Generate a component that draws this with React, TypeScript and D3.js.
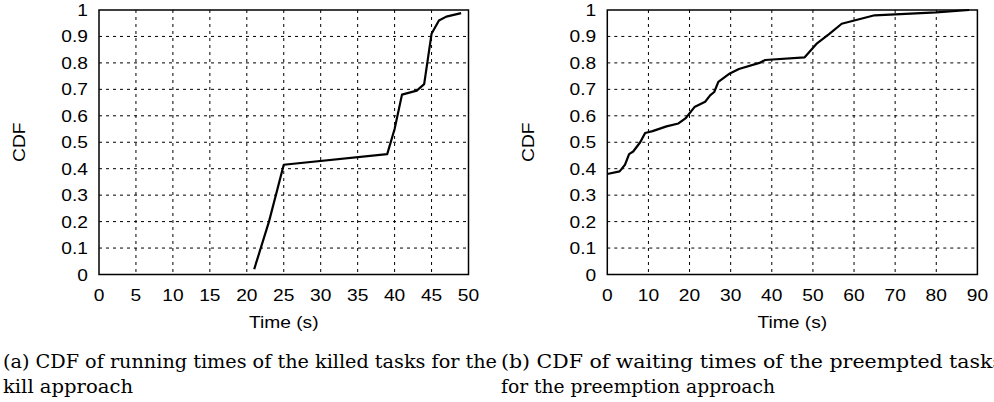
import React from "react";
import * as d3 from "d3";

// Left: CDF of running times of the killed tasks (kill approach)
const killTime = [21, 23, 25, 39, 40, 41, 43, 44, 45, 46, 47, 49];
const killCdf = [0.02, 0.2, 0.415, 0.455, 0.55, 0.68, 0.695, 0.72, 0.91, 0.96, 0.975, 0.988];

// Right: CDF of waiting times of the preempted tasks (preemption approach)
const waitTime = [0, 3, 4.3, 5.3, 6.3, 8, 9.2, 11, 14.4, 17.3, 19, 21.2, 23.8, 25, 26, 27, 29.8, 32, 37, 38.4, 48, 51, 54, 57, 65, 80, 88];
const waitCdf = [0.38, 0.39, 0.415, 0.455, 0.465, 0.5, 0.535, 0.542, 0.56, 0.571, 0.59, 0.633, 0.653, 0.677, 0.69, 0.728, 0.76, 0.777, 0.8, 0.811, 0.821, 0.874, 0.91, 0.948, 0.98, 0.991, 1.0];

const leftXTicks = [0, 5, 10, 15, 20, 25, 30, 35, 40, 45, 50];
const rightXTicks = [0, 10, 20, 30, 40, 50, 60, 70, 80, 90];
const yTicks = [0, 0.1, 0.2, 0.3, 0.4, 0.5, 0.6, 0.7, 0.8, 0.9, 1];
const yTickLabels = ["0", "0.1", "0.2", "0.3", "0.4", "0.5", "0.6", "0.7", "0.8", "0.9", "1"];

const captionA = ["(a) CDF of running times of the killed tasks for the", "kill approach"];
const captionB = ["(b) CDF of waiting times of the preempted tasks", "for the preemption approach"];

const SANS = "'Liberation Sans', Arial, sans-serif";
const SERIF = "'DejaVu Serif', serif";
const SX = 1.13;

function T({ x, y, anchor = "middle", rotate = 0, children }: any) {
  return (
    <text
      transform={`translate(${x},${y}) rotate(${rotate}) scale(${SX},1)`}
      textAnchor={anchor}
      fontFamily={SANS}
      fontSize={17}
      fill="#000"
    >
      {children}
    </text>
  );
}

function Cap({ x, y, len, children }: any) {
  return (
    <text x={x} y={y} fontFamily={SERIF} fontSize={18.3} fill="#000" textLength={len} lengthAdjust="spacingAndGlyphs">
      {children}
    </text>
  );
}

function Panel({ x0, x1, xMax, xTicks, xs, ys, labelX }: any) {
  const top = 10;
  const bottom = 274.5;
  const x = d3.scaleLinear().domain([0, xMax]).range([x0, x1]);
  const y = d3.scaleLinear().domain([0, 1]).range([bottom, top]);
  const pts: [number, number][] = xs.map((v: number, i: number) => [v, ys[i]]);
  const line = d3
    .line<[number, number]>()
    .x((d) => x(d[0]))
    .y((d) => y(d[1]));
  return (
    <g>
      {xTicks.slice(1, -1).map((t: number) => (
        <line key={"gx" + t} x1={x(t)} x2={x(t)} y1={top} y2={bottom} stroke="#000" strokeWidth={1} strokeDasharray="3,4" />
      ))}
      {yTicks.slice(1, -1).map((t: number) => (
        <line key={"gy" + t} x1={x0} x2={x1} y1={y(t)} y2={y(t)} stroke="#000" strokeWidth={1} strokeDasharray="3,4" />
      ))}
      <rect x={x0} y={top} width={x1 - x0} height={bottom - top} fill="none" stroke="#000" strokeWidth={1.5} />
      <path d={line(pts) || ""} fill="none" stroke="#000" strokeWidth={2.2} strokeLinejoin="round" />
      {xTicks.map((t: number) => (
        <T key={"xl" + t} x={x(t)} y={300.5}>
          {String(t)}
        </T>
      ))}
      {yTicks.map((t: number, i: number) => (
        <T key={"yl" + t} x={x0 - 11} y={y(t) + 6} anchor="end">
          {yTickLabels[i]}
        </T>
      ))}
      <T x={(x0 + x1) / 2} y={327.5}>Time (s)</T>
      <T x={labelX} y={(top + bottom) / 2} rotate={-90}>
        <tspan dy={6}>CDF</tspan>
      </T>
    </g>
  );
}

export default function App() {
  return (
    <svg
      width={994}
      height={402}
      style={{ position: "absolute", left: 0, top: 0, background: "#fff" }}
    >
      <rect width={994} height={402} fill="#fff" />
      <Panel x0={99} x1={468.5} xMax={50} xTicks={leftXTicks} xs={killTime} ys={killCdf} labelX={19} />
      <Panel x0={607.3} x1={977.4} xMax={90} xTicks={rightXTicks} xs={waitTime} ys={waitCdf} labelX={527.5} />
      <Cap x={3} y={368} len={494}>{captionA[0]}</Cap>
      <Cap x={3} y={393} len={130}>{captionA[1]}</Cap>
      <Cap x={501} y={368} len={502}>{captionB[0]}</Cap>
      <Cap x={501} y={393} len={274}>{captionB[1]}</Cap>
    </svg>
  );
}
